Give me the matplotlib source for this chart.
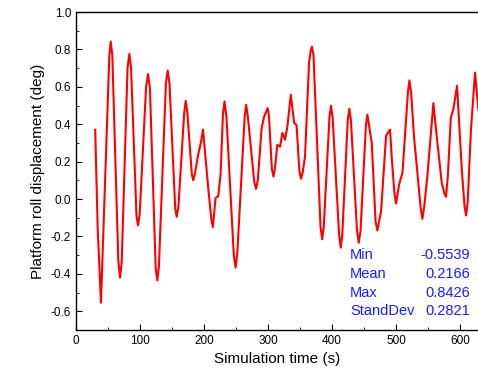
import matplotlib
matplotlib.use("Agg")
import matplotlib.pyplot as plt
from matplotlib.ticker import MultipleLocator

plt.rcParams['font.family'] = ['Liberation Sans', 'DejaVu Sans']
plt.rcParams['axes.unicode_minus'] = False

# roll displacement (time in s, roll in deg)
time_s = [30, 33.9, 39, 46.4, 52, 54.2, 56.7, 66.1, 68.8, 71.4, 80.5, 83.3, 86,
          94.5, 96.9, 99.5, 109.5, 112.5, 115.5, 124.5, 127, 129.5, 140.5, 143.2, 146,
          155, 157.3, 160, 169, 171.4, 174, 181, 183.3, 186, 191, 195, 198.4, 206.8,
          211.5, 213.8, 218, 222.3, 226, 229.5, 232, 235, 246.5, 249.3, 252, 263.5,
          265.8, 268.5, 278.5, 281.3, 284, 290, 294, 299.5, 301.5, 306, 308.5, 311,
          314.5, 318.8, 322.4, 326.6, 330.2, 335.6, 340.8, 344.5, 349, 351.6, 354,
          357.8, 364, 366.5, 368.5, 371, 382, 384.6, 387, 396, 398.4, 401, 411, 413.6,
          416, 424.5, 427, 429.5, 439, 441.7, 444.5, 453, 455.2, 462, 468, 470.8,
          476.6, 484.4, 490.6, 493.5, 497.5, 500, 504.7, 510, 518.5, 520.8, 523.5, 528,
          538.5, 541.1, 544, 548.9, 558.3, 563.5, 571.4, 575.5, 578.1, 581, 585.5,
          589.5, 595.3, 602.7, 607, 609.4, 612, 617, 623.4, 628.6]
roll_deg = [0.37, -0.16, -0.554, 0.19, 0.76, 0.842, 0.77, -0.33, -0.42, -0.34, 0.70,
            0.776, 0.70, -0.09, -0.141, -0.08, 0.60, 0.668, 0.59, -0.37, -0.435, -0.36,
            0.62, 0.687, 0.62, -0.05, -0.095, -0.04, 0.46, 0.525, 0.46, 0.13, 0.10,
            0.14, 0.24, 0.30, 0.371, 0.05, -0.11, -0.15, 0.006, 0.015, 0.14, 0.45,
            0.522, 0.44, -0.30, -0.367, -0.29, 0.44, 0.504, 0.44, 0.09, 0.054, 0.10,
            0.38, 0.442, 0.486, 0.44, 0.16, 0.12, 0.17, 0.29, 0.28, 0.353, 0.317, 0.388,
            0.557, 0.406, 0.397, 0.15, 0.108, 0.14, 0.228, 0.726, 0.79, 0.815, 0.77,
            -0.15, -0.215, -0.15, 0.44, 0.499, 0.43, -0.19, -0.26, -0.19, 0.42, 0.483,
            0.42, -0.17, -0.234, -0.17, 0.40, 0.451, 0.30, -0.12, -0.168, -0.065, 0.339,
            0.371, 0.21, 0.03, -0.024, 0.077, 0.14, 0.57, 0.634, 0.57, 0.335, -0.05,
            -0.106, -0.04, 0.122, 0.513, 0.335, 0.086, 0.03, 0.012, 0.13, 0.433, 0.481,
            0.605, 0.157, -0.04, -0.088, -0.01, 0.371, 0.676, 0.477]

stat_names = ['Min', 'Mean', 'Max', 'StandDev']
stat_values = ['-0.5539', '0.2166', '0.8426', '0.2821']

fig = plt.figure(figsize=(4.78, 3.81), dpi=100)
ax = fig.add_axes([0.159, 0.134, 0.841, 0.8345])

ax.plot(time_s, roll_deg, color='red', linewidth=1.5)

ax.set_xlim(0, 628)
ax.set_ylim(-0.7, 1.0)
ax.xaxis.set_major_locator(MultipleLocator(100))
ax.xaxis.set_minor_locator(MultipleLocator(50))
ax.yaxis.set_major_locator(MultipleLocator(0.2))
ax.yaxis.set_minor_locator(MultipleLocator(0.1))
ax.tick_params(which='both', direction='in', labelsize=8.5)
ax.tick_params(which='major', length=4)
ax.tick_params(which='minor', length=2.5)
ax.spines['right'].set_visible(False)
for s in ['left', 'bottom', 'top']:
    ax.spines[s].set_linewidth(1.0)

ax.set_xlabel('Simulation time (s)', fontsize=11)
ax.set_ylabel('Platform roll displacement (deg)', fontsize=11)

# statistics box
row_y = [0.236, 0.176, 0.116, 0.060]
for name, val, y in zip(stat_names, stat_values, row_y):
    ax.text(0.682, y, name, transform=ax.transAxes, color='#1a1aff',
            fontsize=10.5, va='center', ha='left')
    ax.text(0.980, y, val, transform=ax.transAxes, color='#1a1aff',
            fontsize=10.5, va='center', ha='right')

plt.savefig('out.png', dpi=100)
